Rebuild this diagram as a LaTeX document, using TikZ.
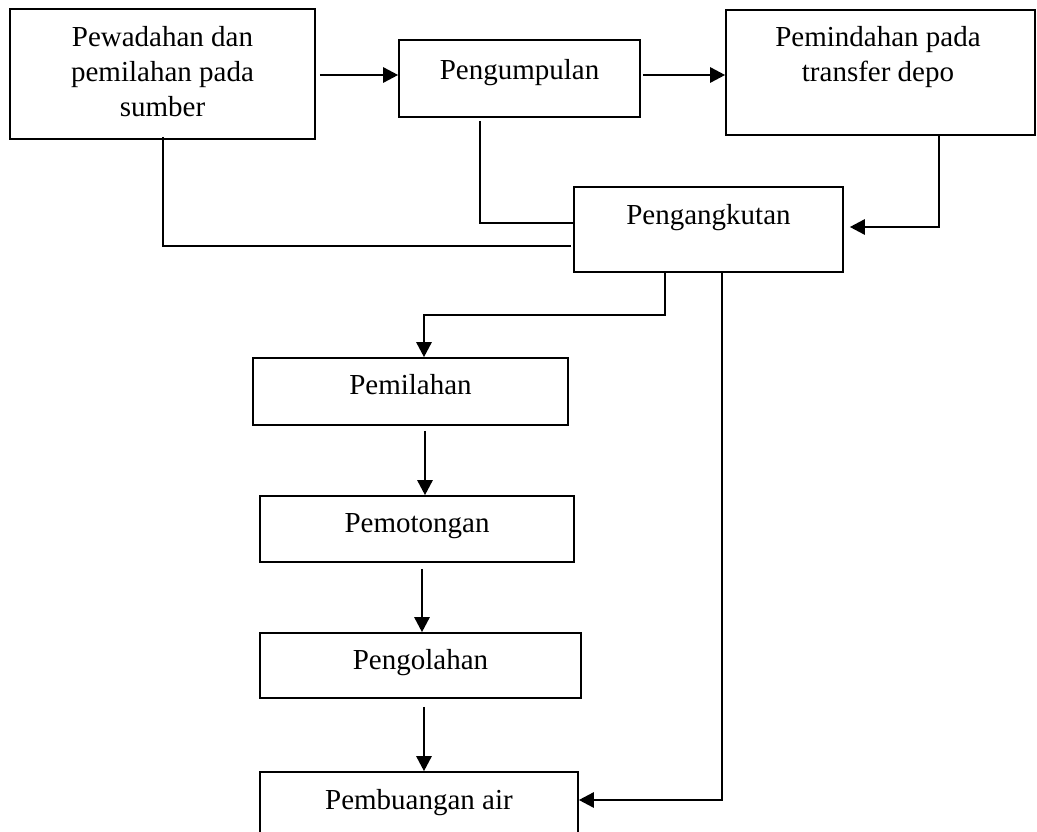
\documentclass[tikz,border=0pt]{standalone}
\usepackage{fontspec}
\setmainfont{Liberation Serif}
\usetikzlibrary{arrows.meta}
\begin{document}
\begin{tikzpicture}[x=1pt,y=-1pt,
  box/.style={draw=black,line width=1.6pt,rectangle,inner sep=0pt},
  lbl/.style={anchor=base,inner sep=0pt,font=\fontsize{29}{35}\selectfont},
  conn/.style={draw=black,line width=2pt},
  arr/.style={draw=black,line width=2.6pt,-{Triangle[length=15pt,width=15pt]}}]
\useasboundingbox (0,0) rectangle (1037,832);
\fill[white] (0,0) rectangle (1037,832);
\clip (0,0) rectangle (1037,832);
% boxes
\node[box,minimum width=305pt,minimum height=130pt] (b1) at (162.5,74) {};
\node[box,minimum width=241pt,minimum height=77pt] (b2) at (519.5,78.5) {};
\node[box,minimum width=309pt,minimum height=125pt] (b3) at (880.5,72.5) {};
\node[box,minimum width=269pt,minimum height=85pt] (b4) at (708.5,229.5) {};
\node[box,minimum width=315pt,minimum height=67pt] (b5) at (410.5,391.5) {};
\node[box,minimum width=314pt,minimum height=66pt] (b6) at (417,529) {};
\node[box,minimum width=321pt,minimum height=65pt] (b7) at (420.5,665.5) {};
\node[box,minimum width=318pt,minimum height=66pt] (b8) at (419,805) {};
% texts
\node[lbl] (t1a) at ([yshift=-38pt]b1.north) {Pewadahan dan};
\node[lbl] (t1b) at ([yshift=-73pt]b1.north) {pemilahan pada};
\node[lbl] (t1c) at ([yshift=-108pt]b1.north) {sumber};
\node[lbl] (t2) at ([yshift=-40pt]b2.north) {Pengumpulan};
\node[lbl] (t3a) at ([xshift=-2.5pt,yshift=-37pt]b3.north) {Pemindahan pada};
\node[lbl] (t3b) at ([xshift=-2.5pt,yshift=-72pt]b3.north) {transfer depo};
\node[lbl] (t4) at ([yshift=-38pt]b4.north) {Pengangkutan};
\node[lbl] (t5) at ([yshift=-37pt]b5.north) {Pemilahan};
\node[lbl] (t6) at ([yshift=-37pt]b6.north) {Pemotongan};
\node[lbl] (t7) at ([yshift=-37pt]b7.north) {Pengolahan};
\node[lbl] (t8) at ([yshift=-38pt]b8.north) {Pembuangan air};
% coordinates for bends
\coordinate (c1) at (163,246);
\coordinate (c2) at (480,223);
\coordinate (c3) at (939,227);
\coordinate (c4a) at (665,315);
\coordinate (c4b) at (424,315);
\coordinate (c5) at (722,800);
% connectors
\draw[arr] ([xshift=4pt]b1.east |- 0,75) -- (b2.west |- 0,75);
\draw[arr] ([xshift=2pt]b2.east |- 0,75) -- (b3.west |- 0,75);
\draw[arr] (c3 |- b3.south) -- (c3) -- ([xshift=6pt]b4.east |- c3);
\draw[conn] ([yshift=3pt]c1 |- b1.south) -- (c1) -- ([xshift=-2pt]b4.west |- c1);
\draw[conn] ([yshift=-3pt]c2 |- b2.south) -- (c2) -- (b4.west |- c2);
\draw[arr] (c4a |- b4.south) -- (c4a) -- (c4b) -- (c4b |- b5.north);
\draw[arr] (c5 |- b4.south) -- (c5) -- (b8.east |- c5);
\draw[arr] ([yshift=-5pt]b5.south -| 425,0) -- (b6.north -| 425,0);
\draw[arr] ([yshift=-6pt]b6.south -| 422,0) -- (b7.north -| 422,0);
\draw[arr] ([yshift=-8pt]b7.south -| 424,0) -- (b8.north -| 424,0);
\end{tikzpicture}
\end{document}
